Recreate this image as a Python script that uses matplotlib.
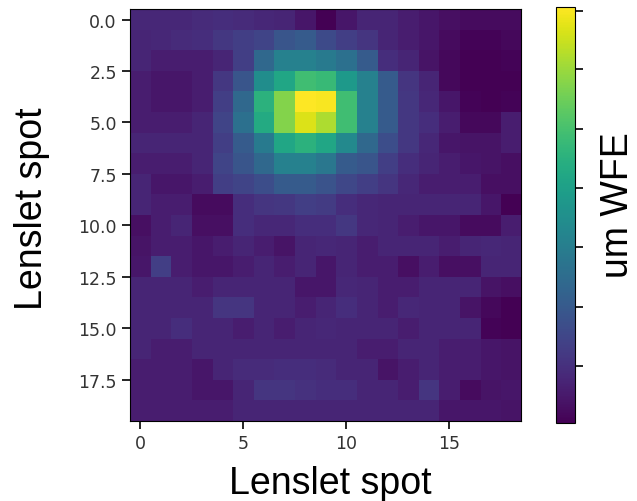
import matplotlib

matplotlib.use("Agg")
import matplotlib.pyplot as plt
import numpy as np

# wavefront error per lenslet spot (20 rows x 19 cols)
wfe_rows = [
    [0.13, 0.13, 0.13, 0.14, 0.15, 0.14, 0.13, 0.12, 0.08, 0.02, 0.08, 0.12, 0.12, 0.10, 0.08, 0.06, 0.05, 0.05, 0.05],
    [0.12, 0.13, 0.14, 0.15, 0.18, 0.20, 0.22, 0.28, 0.30, 0.24, 0.20, 0.17, 0.12, 0.10, 0.08, 0.05, 0.03, 0.03, 0.04],
    [0.12, 0.10, 0.10, 0.10, 0.12, 0.20, 0.35, 0.45, 0.45, 0.42, 0.38, 0.30, 0.15, 0.12, 0.07, 0.04, 0.02, 0.02, 0.03],
    [0.10, 0.08, 0.08, 0.10, 0.18, 0.28, 0.50, 0.60, 0.70, 0.68, 0.55, 0.45, 0.30, 0.17, 0.12, 0.04, 0.02, 0.02, 0.02],
    [0.10, 0.08, 0.08, 0.10, 0.20, 0.35, 0.65, 0.82, 1.00, 0.99, 0.70, 0.45, 0.30, 0.18, 0.13, 0.08, 0.03, 0.02, 0.03],
    [0.10, 0.10, 0.10, 0.12, 0.22, 0.38, 0.62, 0.82, 0.95, 0.88, 0.70, 0.45, 0.30, 0.18, 0.15, 0.10, 0.04, 0.04, 0.10],
    [0.12, 0.12, 0.12, 0.12, 0.20, 0.30, 0.42, 0.60, 0.65, 0.60, 0.48, 0.35, 0.25, 0.18, 0.13, 0.08, 0.07, 0.07, 0.10],
    [0.10, 0.10, 0.10, 0.12, 0.22, 0.28, 0.35, 0.45, 0.45, 0.41, 0.30, 0.28, 0.20, 0.15, 0.12, 0.10, 0.08, 0.07, 0.06],
    [0.12, 0.08, 0.08, 0.10, 0.20, 0.22, 0.25, 0.30, 0.30, 0.27, 0.23, 0.20, 0.17, 0.13, 0.10, 0.10, 0.10, 0.06, 0.06],
    [0.12, 0.10, 0.10, 0.05, 0.05, 0.15, 0.17, 0.18, 0.20, 0.19, 0.15, 0.13, 0.12, 0.12, 0.12, 0.12, 0.12, 0.08, 0.02],
    [0.06, 0.10, 0.12, 0.06, 0.06, 0.15, 0.13, 0.13, 0.15, 0.15, 0.18, 0.13, 0.12, 0.10, 0.08, 0.08, 0.05, 0.05, 0.10],
    [0.07, 0.10, 0.10, 0.08, 0.10, 0.12, 0.10, 0.07, 0.12, 0.13, 0.12, 0.10, 0.12, 0.12, 0.12, 0.10, 0.12, 0.13, 0.12],
    [0.08, 0.20, 0.10, 0.08, 0.08, 0.10, 0.12, 0.10, 0.12, 0.08, 0.12, 0.10, 0.10, 0.06, 0.10, 0.06, 0.06, 0.12, 0.12],
    [0.12, 0.12, 0.12, 0.10, 0.12, 0.12, 0.12, 0.12, 0.08, 0.08, 0.13, 0.12, 0.10, 0.10, 0.12, 0.12, 0.12, 0.07, 0.06],
    [0.12, 0.12, 0.12, 0.12, 0.17, 0.17, 0.12, 0.12, 0.10, 0.12, 0.15, 0.12, 0.10, 0.13, 0.12, 0.12, 0.07, 0.04, 0.02],
    [0.12, 0.12, 0.15, 0.12, 0.12, 0.10, 0.12, 0.10, 0.12, 0.13, 0.12, 0.12, 0.12, 0.10, 0.12, 0.12, 0.12, 0.03, 0.02],
    [0.12, 0.10, 0.10, 0.12, 0.12, 0.12, 0.12, 0.12, 0.12, 0.12, 0.12, 0.10, 0.10, 0.12, 0.12, 0.10, 0.10, 0.08, 0.07],
    [0.10, 0.10, 0.10, 0.08, 0.12, 0.14, 0.14, 0.15, 0.15, 0.14, 0.12, 0.12, 0.07, 0.10, 0.12, 0.10, 0.10, 0.08, 0.07],
    [0.10, 0.10, 0.10, 0.08, 0.08, 0.12, 0.17, 0.17, 0.16, 0.15, 0.15, 0.12, 0.12, 0.10, 0.17, 0.10, 0.05, 0.07, 0.08],
    [0.10, 0.10, 0.10, 0.10, 0.10, 0.12, 0.12, 0.12, 0.12, 0.12, 0.12, 0.12, 0.12, 0.12, 0.12, 0.08, 0.08, 0.08, 0.07],
]

x_ticks = [0, 5, 10, 15]
y_ticks = [0.0, 2.5, 5.0, 7.5, 10.0, 12.5, 15.0, 17.5]
cbar_ticks = [0.154, 0.294, 0.434, 0.574, 0.713, 0.853, 0.99]

wfe = np.array(wfe_rows)

fig = plt.figure(figsize=(6.37, 5.02), dpi=100)
axis = fig.add_axes([0.204, 0.155, 0.614, 0.829])
cax = fig.add_axes([0.873, 0.155, 0.030, 0.829])

img = axis.imshow(wfe, cmap="viridis", vmin=0.02, vmax=1.0, interpolation="nearest")
axis.set_xticks(x_ticks)
axis.set_yticks(y_ticks)
axis.tick_params(labelsize=12.5, labelcolor="#333333", length=6, width=1.2)

label_font = dict(fontsize=27, fontfamily="Liberation Sans")
axis.set_xlabel("Lenslet spot", labelpad=9, **label_font)
axis.set_ylabel("Lenslet spot", labelpad=20, **label_font)
axis.xaxis.label.set_x(0.512)
axis.yaxis.label.set_y(0.517)

cbar = fig.colorbar(img, cax=cax)
cbar.set_ticks(cbar_ticks)
cbar.set_ticklabels([""] * len(cbar_ticks))
cbar.ax.tick_params(length=6, width=1.2)
cbar.set_label("um WFE", labelpad=8, **label_font)
cbar.ax.yaxis.label.set_y(0.526)

fig.savefig("out.png", dpi=100)
